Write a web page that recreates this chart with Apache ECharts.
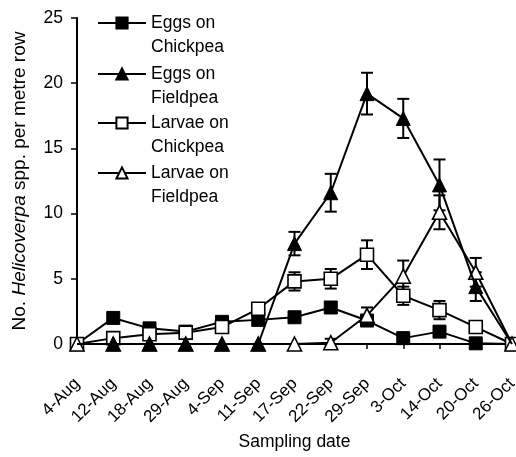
<!DOCTYPE html>
<html>
<head>
<meta charset="utf-8">
<script src="https://cdn.jsdelivr.net/npm/echarts@6/dist/echarts.min.js"></script>
<style>html,body{margin:0;padding:0;background:#fff}#c{width:516px;height:457px}</style>
</head>
<body>
<div id="c"></div>
<script>
const categories = ['4-Aug','12-Aug','18-Aug','29-Aug','4-Sep','11-Sep','17-Sep','22-Sep','29-Sep','3-Oct','14-Oct','20-Oct','26-Oct'];
const yTicks = [0, 5, 10, 15, 20, 25];

const eggsChickpea     = [0, 2.0, 1.2, 0.95, 1.7, 1.85, 2.05, 2.8, 1.8, 0.45, 0.95, 0.05, 0];
const eggsChickpeaSE   = [0, 0.2, 0.2, 0.2, 0.2, 0.2, 0.3, 0.3, 0.3, 0.2, 0.2, 0.1, 0];
const eggsFieldpea     = [0, 0, 0, 0, 0, 0, 7.7, 11.6, 19.2, 17.3, 12.2, 4.4, 0];
const eggsFieldpeaSE   = [0, 0, 0, 0, 0, 0, 0.9, 1.45, 1.6, 1.5, 1.95, 1.1, 0];
const larvaeChickpea   = [0, 0.45, 0.75, 0.87, 1.3, 2.7, 4.8, 5.0, 6.85, 3.7, 2.6, 1.3, 0];
const larvaeChickpeaSE = [0, 0.2, 0.2, 0.2, 0.2, 0.3, 0.7, 0.75, 1.1, 0.7, 0.7, 0.3, 0];
const larvaeFieldpea   = [0, 0, 0, 0, 0, 0, 0, 0.1, 2.2, 5.2, 10.1, 5.5, 0];
const larvaeFieldpeaSE = [0, 0, 0, 0, 0, 0, 0, 0.3, 0.6, 1.2, 1.3, 1.1, 0];

const names = ['Eggs on\nChickpea', 'Eggs on\nFieldpea', 'Larvae on\nChickpea', 'Larvae on\nFieldpea'];

const FONT = '"Liberation Sans", Arial, sans-serif';
const chart = echarts.init(document.getElementById('c'), null, {renderer: 'canvas'});

function lineSeries(name, data, symbol, filled, z) {
  return {
    type: 'line', name: name, data: data, z: z,
    symbol: symbol, symbolSize: symbol === 'rect' ? 13 : 14,
    showAllSymbol: true, clip: false,
    lineStyle: {color: '#000', width: 2},
    itemStyle: {color: filled ? '#000' : '#fff', borderColor: '#000', borderWidth: filled ? 1 : 1.6},
    emphasis: {disabled: true}, animation: false
  };
}

function errorSeries(values, se, z) {
  return {
    type: 'custom', z: z, silent: true, animation: false, clip: false,
    encode: {x: 0, y: 1},
    data: values.map((v, i) => [i, v, se[i]]),
    renderItem: function (params, api) {
      const i = api.value(0), v = api.value(1), e = api.value(2);
      if (!e) return null;
      const t = api.coord([i, v + e]);
      const b = api.coord([i, v - e]);
      const hw = 6;
      const st = {stroke: '#000', lineWidth: 2};
      return {type: 'group', children: [
        {type: 'line', shape: {x1: t[0], y1: t[1], x2: b[0], y2: b[1]}, style: st},
        {type: 'line', shape: {x1: t[0] - hw, y1: t[1], x2: t[0] + hw, y2: t[1]}, style: st},
        {type: 'line', shape: {x1: b[0] - hw, y1: b[1], x2: b[0] + hw, y2: b[1]}, style: st}
      ]};
    }
  };
}

const legendTops = [23, 74, 123, 173];
const legends = names.map((n, k) => ({
  data: [n], orient: 'vertical', left: 97, top: legendTops[k] - 36, padding: 0,
  itemWidth: 48, itemHeight: 14, selectedMode: false,
  formatter: (name) => '\n' + name,
  textStyle: {fontFamily: FONT, fontSize: 17.5, color: '#000', lineHeight: 24}
}));

const efData = eggsFieldpea.map((v, i) => (i === 0 || i === categories.length - 1) ? {value: v, symbol: 'none'} : v);

chart.setOption({
  backgroundColor: '#fff',
  animation: false,
  legend: legends,
  grid: {left: 77, right: 4, top: 18, bottom: 113, containLabel: false, outerBoundsMode: 'none'},
  xAxis: {
    type: 'category', data: categories, boundaryGap: false,
    name: 'Sampling date', nameLocation: 'middle', nameGap: 88,
    nameTextStyle: {fontFamily: FONT, fontSize: 17.5, color: '#000'},
    axisLine: {lineStyle: {color: '#000', width: 2}},
    axisTick: {show: true, length: 5, lineStyle: {color: '#000', width: 1.5}},
    axisLabel: {rotate: 45, fontFamily: FONT, fontSize: 17, color: '#000', margin: 37, interval: 0},
    splitLine: {show: false}
  },
  yAxis: {
    type: 'value', min: yTicks[0], max: yTicks[yTicks.length - 1], interval: 5,
    name: '{n|No. }{i|Helicoverpa}{n| spp. per metre row}',
    nameLocation: 'middle', nameGap: 48, nameRotate: 90,
    nameTextStyle: {fontFamily: FONT, fontSize: 19, color: '#000',
      rich: {n: {fontFamily: FONT, fontSize: 19, color: '#000'}, i: {fontFamily: FONT, fontSize: 19, fontStyle: 'italic', color: '#000'}}},
    axisLine: {show: true, lineStyle: {color: '#000', width: 2}},
    axisTick: {show: true, length: 6, lineStyle: {color: '#000', width: 1.5}},
    axisLabel: {fontFamily: FONT, fontSize: 17.5, color: '#000', margin: 14},
    splitLine: {show: false}
  },
  series: [
    errorSeries(eggsChickpea, eggsChickpeaSE, 1),
    errorSeries(larvaeChickpea, larvaeChickpeaSE, 1),
    errorSeries(larvaeFieldpea, larvaeFieldpeaSE, 1),
    errorSeries(eggsFieldpea, eggsFieldpeaSE, 1),
    lineSeries(names[0], eggsChickpea, 'rect', true, 2),
    lineSeries(names[2], larvaeChickpea, 'rect', false, 3),
    lineSeries(names[3], larvaeFieldpea, 'triangle', false, 4),
    lineSeries(names[1], efData, 'triangle', true, 5)
  ]
});
</script>
</body>
</html>
